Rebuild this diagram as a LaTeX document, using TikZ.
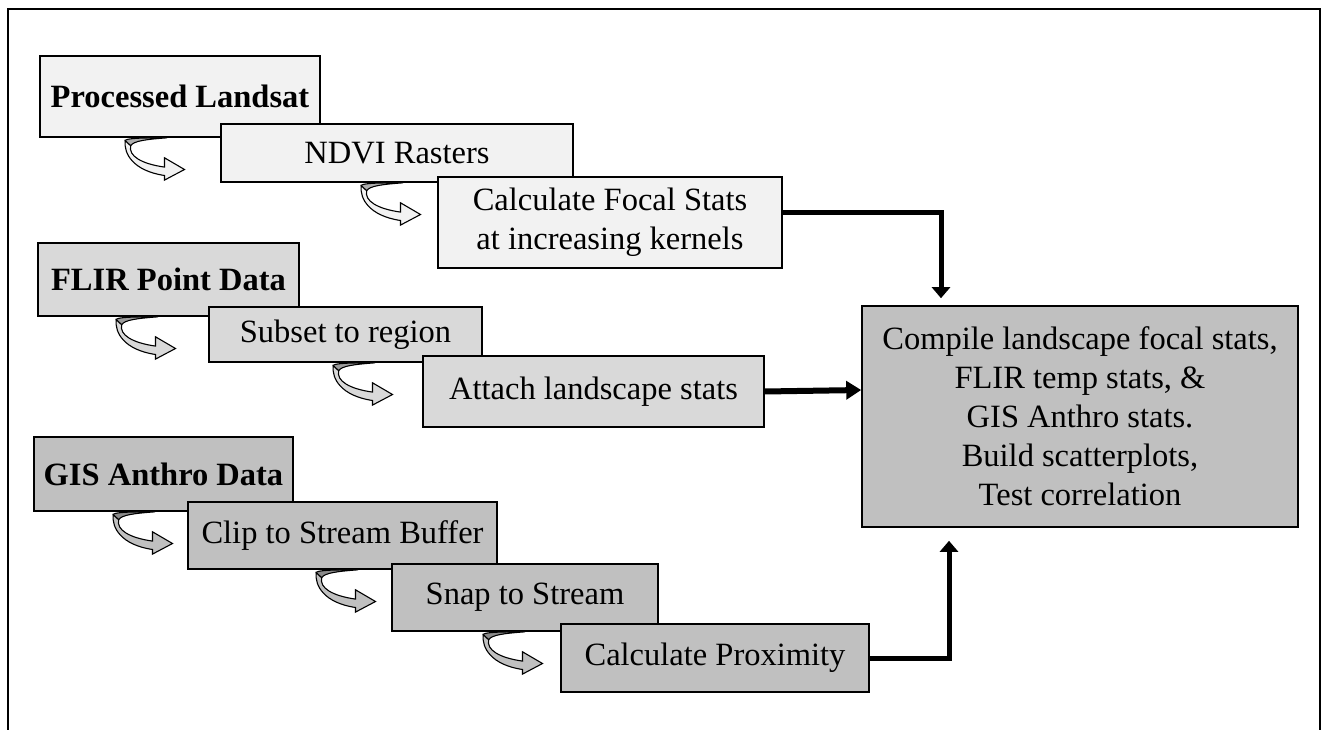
\documentclass[tikz,border=0pt]{standalone}
\usepackage{fontspec}
\setmainfont{Liberation Serif}
\usetikzlibrary{arrows.meta,calc}

\definecolor{landsatfill}{HTML}{F2F2F2}
\definecolor{flirfill}{HTML}{D9D9D9}
\definecolor{gisfill}{HTML}{C0C0C0}

\tikzset{
  stepbox/.style={draw, line width=1.6pt, inner sep=0pt, align=center,
    font=\fontsize{32.5}{39}\selectfont},
  headbox/.style={stepbox, font=\fontsize{32.5}{39}\selectfont\bfseries},
  link/.style={line width=5pt, -{Triangle[length=11pt,width=18pt]}},
  pics/curl/.style={code={
    \filldraw[fill=#1!72!black, line width=1.1pt] (0,3) .. controls (0,0.5) and (15,0) .. (42,0)
      .. controls (22,1.5) and (8,3) .. (5.5,8) -- cycle;
    \filldraw[fill=#1, line width=1.1pt] (0,3) .. controls (-1.5,16) and (8,33) .. (39.3,37.7)
      -- (39.3,42.3) -- (59.3,31.7) -- (39.3,20) -- (39.3,29.3)
      .. controls (16,26) and (3,18) .. (5.5,8) -- cycle;
  }}
}

\begin{document}
\begin{tikzpicture}[x=1pt, y=-1pt]
  \useasboundingbox (0,0) rectangle (1322,730);

  % frame
  \draw[line width=2.8pt] (8,730) -- (8,9) -- (1320,9) -- (1320,730);

  % Landsat chain
  \node[headbox, fill=landsatfill, minimum width=280pt, minimum height=81pt] (pl) at (180,96.5) {Processed Landsat};
  \node[stepbox, fill=landsatfill, minimum width=352pt, minimum height=58pt] (ndvi) at (397,153) {NDVI Rasters};
  \node[stepbox, fill=landsatfill, minimum width=344pt, minimum height=91pt] (focal) at (610,222.5) {Calculate Focal Stats\\at increasing kernels};

  % FLIR chain
  \node[headbox, fill=flirfill, minimum width=261pt, minimum height=73pt] (flir) at (168.5,279.5) {FLIR Point Data};
  \node[stepbox, fill=flirfill, minimum width=273pt, minimum height=55pt] (subset) at (345.5,334.5) {Subset to region};
  \node[stepbox, fill=flirfill, minimum width=341pt, minimum height=71pt] (attach) at (593.5,391.5) {Attach landscape stats};

  % GIS chain
  \node[headbox, fill=gisfill, minimum width=259pt, minimum height=74pt] (gis) at (163.5,474) {GIS Anthro Data};
  \node[stepbox, fill=gisfill, minimum width=309pt, minimum height=67pt] (clip) at (342.5,535.5) {Clip to Stream Buffer};
  \node[stepbox, fill=gisfill, minimum width=266pt, minimum height=67pt] (snap) at (525,597.5) {Snap to Stream};
  \node[stepbox, fill=gisfill, minimum width=308pt, minimum height=68pt] (prox) at (715,658) {Calculate Proximity};

  % result
  \node[stepbox, fill=gisfill, minimum width=436pt, minimum height=221pt] (compile) at (1080,416.5)
    {Compile landscape focal stats,\\FLIR temp stats, \&\\GIS Anthro stats.\\Build scatterplots,\\Test correlation};

  % curled step arrows
  \pic at ($(pl.south west)+(86,0)$) {curl=landsatfill};
  \pic at ($(ndvi.south west)+(141,0)$) {curl=landsatfill};
  \pic at ($(flir.south west)+(79,0)$) {curl=flirfill};
  \pic at ($(subset.south west)+(125,0)$) {curl=flirfill};
  \pic at ($(gis.south west)+(80,0)$) {curl=gisfill};
  \pic at ($(clip.south west)+(129,0)$) {curl=gisfill};
  \pic at ($(snap.south west)+(92,0)$) {curl=gisfill};

  % links into the result box
  \draw[link] ([yshift=9.5pt]focal.east) -| ([xshift=-139pt,yshift=7pt]compile.north);
  \draw[link, line width=6pt, -{Triangle[length=15pt,width=18pt]}] (attach.east) -- ([yshift=1.5pt]attach.east -| compile.west) ;
  \draw[link] (prox.east) -| ([xshift=-131pt,yshift=-13pt]compile.south);
\end{tikzpicture}
\end{document}
